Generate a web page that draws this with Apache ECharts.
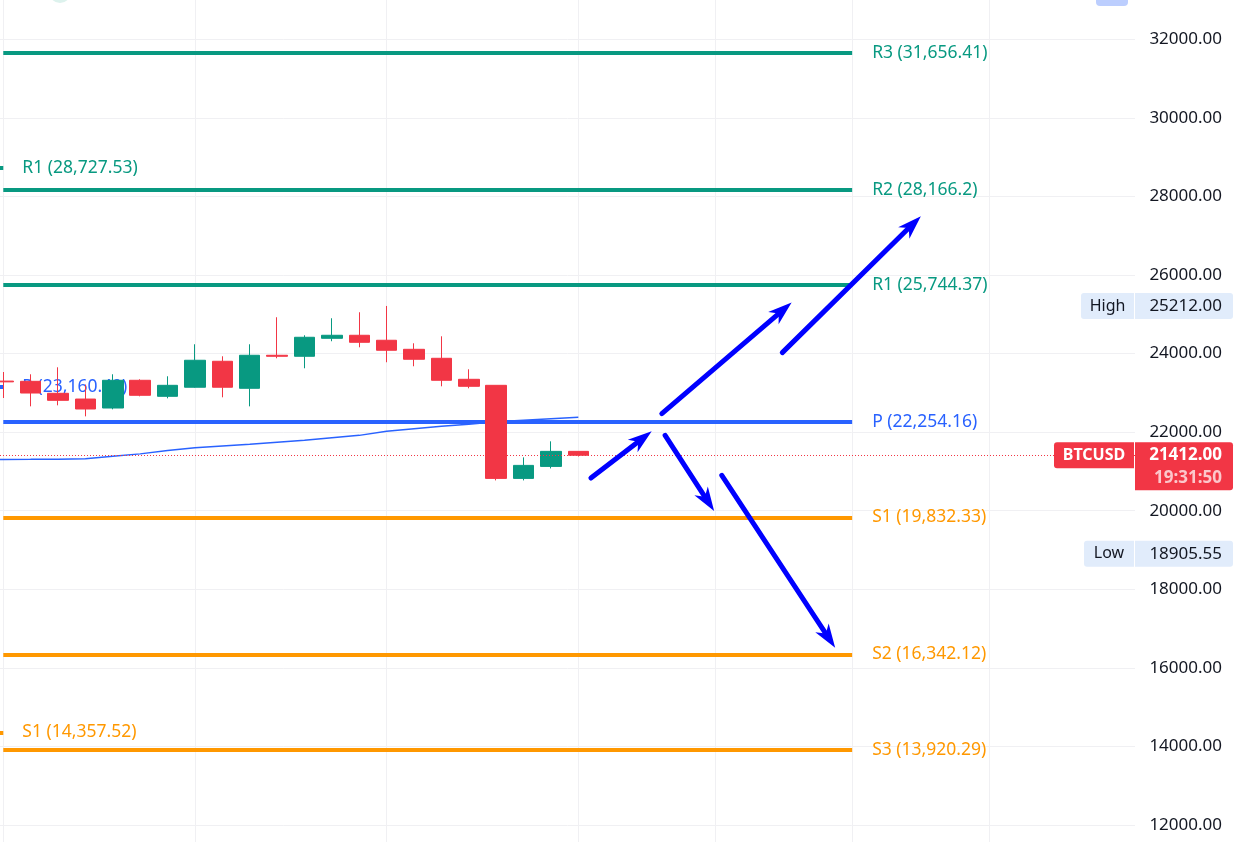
<!DOCTYPE html>
<html>
<head>
<meta charset="utf-8">
<title>BTCUSD pivot levels</title>
<script src="https://cdn.jsdelivr.net/npm/echarts@6/dist/echarts.min.js"></script>
<style>
  html, body { margin: 0; padding: 0; background: #ffffff; }
  #chart { width: 1235px; height: 842px; }
</style>
</head>
<body>
<div id="chart"></div>
<script>
// ---- Daily BTCUSD candles (bar index along the time axis) ----
const barIndex = [0, 1, 2, 3, 4, 5, 6, 7, 8, 9, 10, 11, 12, 13, 14, 15, 16, 17, 18, 19, 20, 21];
const opens  = [23300, 23294, 22989, 22843, 22614, 23320, 22912, 23143, 23804, 23116, 23957, 23931, 24389, 24466, 24339, 24109, 23880, 23345, 23192, 20823, 21128, 21511];
const closes = [23280, 22996, 22810, 22589, 23320, 22938, 23192, 23830, 23143, 23957, 23931, 24415, 24466, 24287, 24084, 23855, 23320, 23167, 20823, 21154, 21511, 21412];
const lows   = [22869, 22657, 22683, 22402, 22581, 22912, 22861, 23130, 22887, 22657, 23880, 23626, 24314, 24160, 23779, 23677, 23167, 23116, 20772, 20772, 21077, 21380];
const highs  = [23531, 23473, 23651, 23210, 23473, 23345, 23422, 24237, 23931, 24237, 24925, 24466, 24899, 25052, 25212, 24262, 24440, 23600, 23192, 21358, 21766, 21511];

// ---- Moving average (blue thin line) ----
const maIndex  = [-1, 0, 1, 2, 3, 4, 5, 6, 7, 8, 9, 10, 11, 12, 13, 14, 15, 16, 17, 18, 19, 20, 21];
const maValues = [21300, 21305, 21308, 21312, 21320, 21384, 21447, 21535, 21600, 21650, 21689, 21740, 21791, 21855, 21918, 22020, 22084, 22148, 22199, 22262, 22300, 22339, 22377];

// ---- Pivot points, current period ----
const pivotNames  = ['R3', 'R2', 'R1', 'P', 'S1', 'S2', 'S3'];
const pivotValues = [31656.41, 28166.2, 25744.37, 22254.16, 19832.33, 16342.12, 13920.29];
const pivotStart = 0;
const pivotEnd = 31;

// ---- Pivot points, previous period (only their ends are in view) ----
const prevPivotNames  = ['R1', 'P', 'S1'];
const prevPivotValues = [28727.53, 23160.49, 14357.52];

// ---- Price scale ----
const priceTicks = { min: 10000, max: 34000, step: 2000 };
const lastPrice = 21412;
const countdown = '19:31:50';
const symbolName = 'BTCUSD';
const highValue = 25212;
const lowValue = 18905.55;

// ---- Time axis grid columns ----
const timeGridBars = [0, 7, 14, 21, 26, 31, 36];

// ---- Scenario arrows: [barIndex, price] tail -> tip ----
const arrowTails = [[21.46, 20831], [24.05, 22471], [28.45, 24025], [24.17, 21919], [26.24, 20899]];
const arrowTips  = [[23.68, 22020], [28.79, 25299], [33.51, 27498], [25.96, 19990], [30.38, 16510]];

const FONT = 'Noto Sans';
const UP = '#089981', DOWN = '#F23645', BLUE = '#2962FF', ORANGE = '#FF9800';
const GRID = '#F0F0F3';
const TEXT = '#131722';
const X_MIN = -0.12, X_MAX = 41.33;

const levelColor = n => n[0] === 'R' ? UP : (n[0] === 'P' ? BLUE : ORANGE);
const fmtLevel = v => v.toLocaleString('en-US', { maximumFractionDigits: 2 });

const candleData = barIndex.map((x, i) => [x, opens[i], closes[i], lows[i], highs[i]]);
const maData = maIndex.map((x, i) => [x, maValues[i]]);

const levelLabel = (name, value, dist) => ({
  show: true, position: 'end', distance: dist,
  formatter: name + ' (' + fmtLevel(value) + ')',
  color: levelColor(name), fontFamily: FONT, fontSize: 17.5
});

const currentLines = pivotNames.map((n, i) => [
  { coord: [pivotStart, pivotValues[i]], lineStyle: { color: levelColor(n), width: 4, type: 'solid' } },
  { coord: [pivotEnd, pivotValues[i]], label: levelLabel(n, pivotValues[i], 20) }
]);

const previousLines = prevPivotNames.map((n, i) => [
  { coord: [X_MIN, prevPivotValues[i]], lineStyle: { color: levelColor(n), width: 4, type: 'solid' } },
  { coord: [0, prevPivotValues[i]], label: levelLabel(n, prevPivotValues[i], 19) }
]);

const chart = echarts.init(document.getElementById('chart'), null, { renderer: 'canvas' });

const option = {
  animation: false,
  backgroundColor: '#ffffff',
  grid: { left: 0, right: 100, top: -39.27, bottom: -61.57, containLabel: false, outerBoundsMode: 'none' },
  xAxis: {
    type: 'value', min: X_MIN, max: X_MAX, show: false,
    splitLine: { show: false }
  },
  yAxis: {
    type: 'value', position: 'right',
    min: priceTicks.min, max: priceTicks.max, interval: priceTicks.step,
    axisLine: { show: false }, axisTick: { show: false },
    splitLine: { show: true, lineStyle: { color: GRID, width: 1 } },
    axisLabel: {
      color: TEXT, fontFamily: FONT, fontSize: 17, align: 'right', margin: 87,
      formatter: v => v.toFixed(2)
    }
  },
  series: [
    {
      // vertical time grid
      type: 'line', data: [], silent: true, z: 0,
      markLine: {
        silent: true, symbol: ['none', 'none'], z: 0, label: { show: false },
        lineStyle: { color: GRID, width: 1, type: 'solid' },
        data: timeGridBars.map(b => ({ xAxis: b }))
      }
    },
    {
      // previous-period pivot ends and their labels
      type: 'line', data: [], silent: true, z: 1,
      markLine: { silent: true, symbol: ['none', 'none'], z: 1, data: previousLines }
    },
    {
      type: 'line', name: 'MA', data: maData, showSymbol: false, silent: true, z: 2,
      lineStyle: { color: BLUE, width: 1.5 }
    },
    {
      // current-period pivot levels
      type: 'line', data: [], silent: true, z: 3,
      markLine: { silent: true, symbol: ['none', 'none'], z: 3, data: currentLines }
    },
    {
      type: 'candlestick', name: symbolName, data: candleData, z: 10,
      encode: { x: 0, y: [1, 2, 3, 4] },
      barWidth: 21,
      itemStyle: { color: UP, color0: DOWN, borderColor: UP, borderColor0: DOWN, borderWidth: 1 }
    },
    {
      // last price line
      type: 'line', data: [], silent: true, z: 11,
      markLine: {
        silent: true, symbol: ['none', 'none'], z: 11, label: { show: false },
        lineStyle: { color: DOWN, width: 1, type: [1, 2] },
        data: [{ yAxis: lastPrice }]
      }
    }
  ]
};
chart.setOption(option);

// ---- overlays positioned through the chart's own scales ----
const toPx = p => chart.convertToPixel({ gridIndex: 0 }, p);
const py = v => toPx([0, v])[1];

function arrow(tail, tip) {
  const p0 = toPx(tail), p1 = toPx(tip);
  const dx = p1[0] - p0[0], dy = p1[1] - p0[1];
  const L = Math.hypot(dx, dy), ux = dx / L, uy = dy / L, nx = -uy, ny = ux;
  const head = 24, half = 8, notch = 17;
  const base = [p1[0] - ux * head, p1[1] - uy * head];
  const nb = [p1[0] - ux * notch, p1[1] - uy * notch];
  return [
    { type: 'polyline', z: 100, silent: true, shape: { points: [p0, nb] },
      style: { stroke: '#0000FF', lineWidth: 5, lineCap: 'round', fill: null } },
    { type: 'polygon', z: 101, silent: true,
      shape: { points: [p1, [base[0] + nx * half, base[1] + ny * half], nb, [base[0] - nx * half, base[1] - ny * half]] },
      style: { fill: '#0000FF' } }
  ];
}

function tag(value, name, nameLeft, valueText, bg, fg, bold, sub) {
  const y = py(value);
  const h = 26;
  const items = [
    { type: 'rect', z: 50, silent: true,
      shape: { x: nameLeft, y: y - h / 2, width: 1134 - nameLeft, height: h, r: [3, 0, 0, 3] },
      style: { fill: bg } },
    { type: 'rect', z: 50, silent: true,
      shape: { x: 1135, y: y - h / 2, width: 98, height: sub ? h + 22 : h, r: [0, 3, 3, 0] },
      style: { fill: bg } },
    { type: 'text', z: 51, silent: true, x: (nameLeft + 1134) / 2, y: y,
      style: { text: name, fill: fg, font: (bold ? 'bold ' : '') + '16px "' + FONT + '"', align: 'center', verticalAlign: 'middle' } },
    { type: 'text', z: 51, silent: true, x: 1222, y: y,
      style: { text: valueText, fill: fg, font: (bold ? 'bold ' : '') + '17px "' + FONT + '"', align: 'right', verticalAlign: 'middle' } }
  ];
  if (sub) {
    items.push({ type: 'text', z: 51, silent: true, x: 1222, y: y + 23,
      style: { text: sub, fill: 'rgba(255,255,255,0.72)', font: 'bold 17px "' + FONT + '"', align: 'right', verticalAlign: 'middle' } });
  }
  return items;
}

let overlays = [];
arrowTails.forEach((t, i) => { overlays = overlays.concat(arrow(t, arrowTips[i])); });
overlays = overlays.concat(tag(highValue, 'High', 1081, highValue.toFixed(2), '#E1ECFB', TEXT, false));
overlays = overlays.concat(tag(lowValue, 'Low', 1084, lowValue.toFixed(2), '#E1ECFB', TEXT, false));
overlays = overlays.concat(tag(lastPrice, symbolName, 1054, lastPrice.toFixed(2), DOWN, '#ffffff', true, countdown));
// toolbar buttons peeking in at the top edge
overlays.push({ type: 'circle', z: 60, silent: true, shape: { cx: 60, cy: -8, r: 11 }, style: { fill: '#DDF2ED' } });
overlays.push({ type: 'rect', z: 60, silent: true, shape: { x: 1096, y: -10, width: 32, height: 16, r: 4 }, style: { fill: '#BCCEFE' } });

chart.setOption({ graphic: overlays });
</script>
</body>
</html>
